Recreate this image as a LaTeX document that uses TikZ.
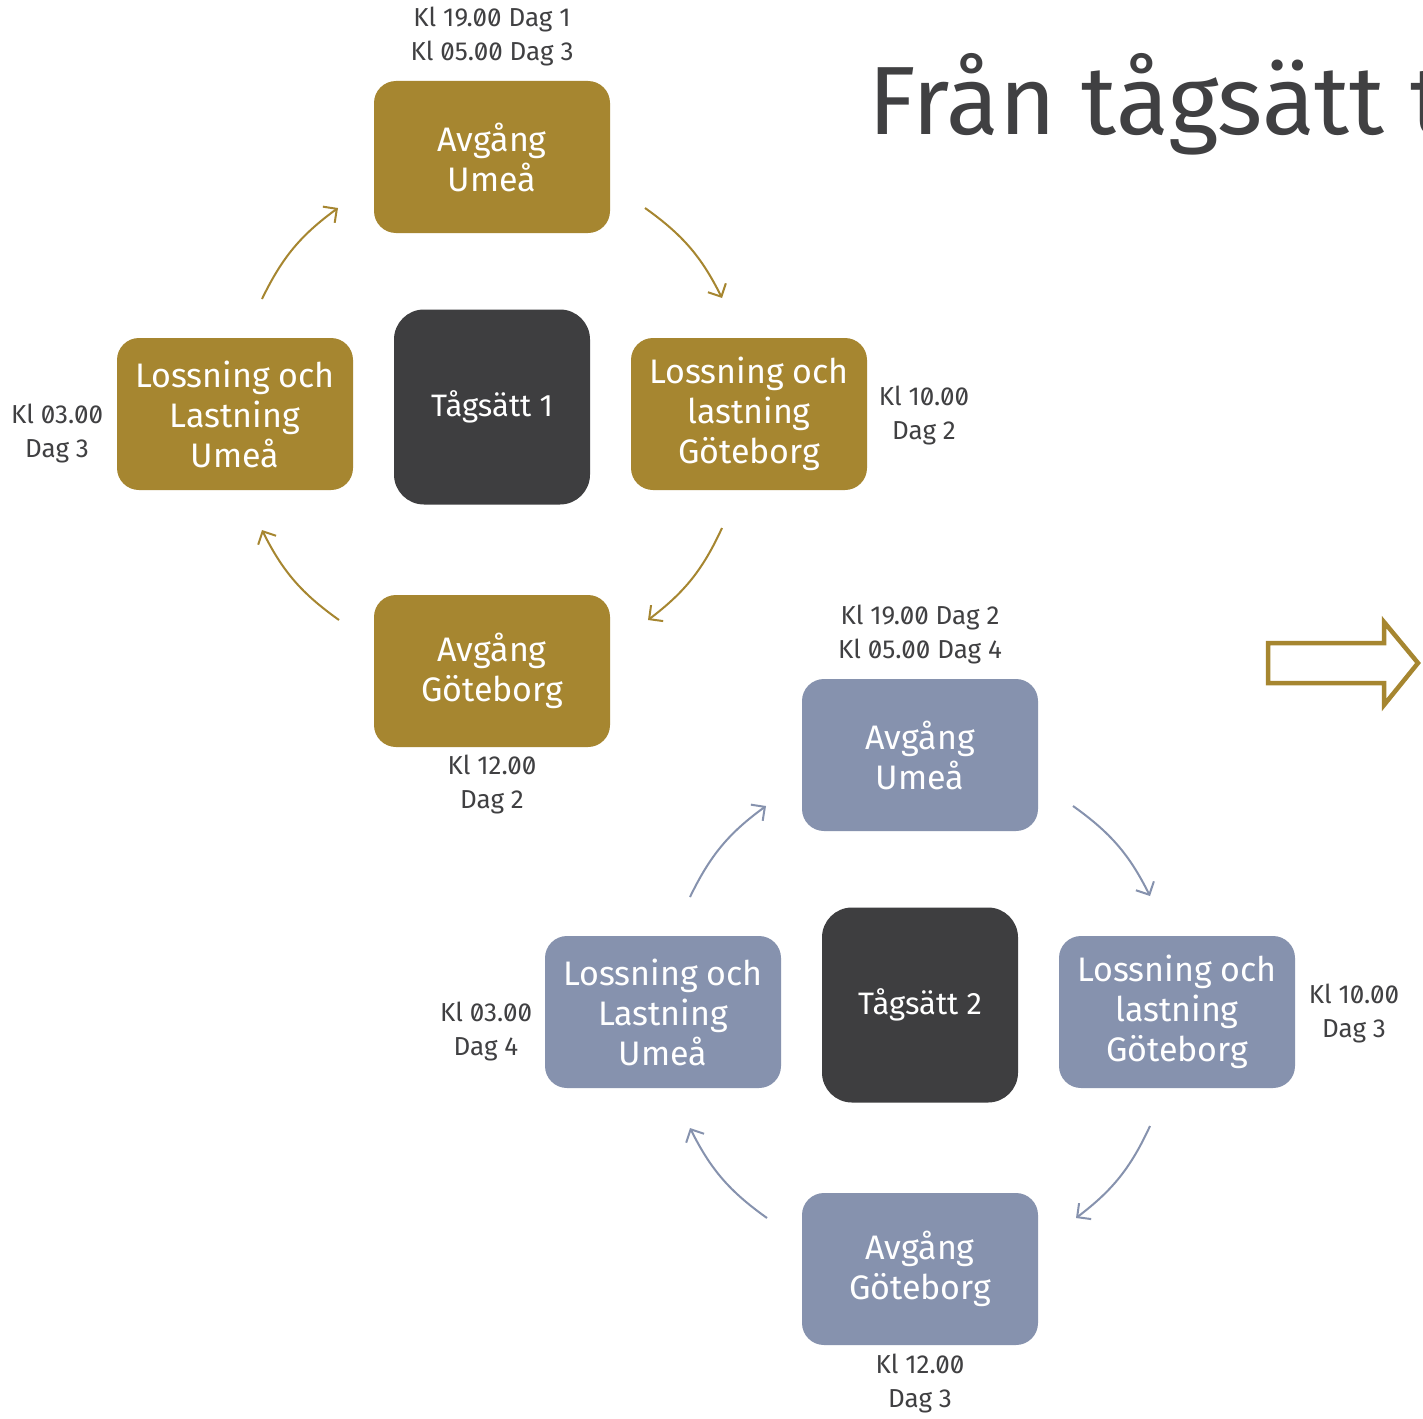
\documentclass[tikz,border=0pt]{standalone}
\usepackage{fontspec}
\setmainfont{Fira Sans}
\newfontfamily\lblfont{Fira Sans}[Numbers=SlashedZero]
\usetikzlibrary{arrows.meta}
\definecolor{gold}{RGB}{166,134,48}
\definecolor{slate}{RGB}{134,146,174}
\definecolor{dark}{RGB}{62,62,64}
\definecolor{txt}{RGB}{64,64,66}
\tikzset{
  x=1pt, y=-1pt,
  stbox/.style={rounded corners=22pt, minimum width=236pt, minimum height=152pt, text=white,
    align=center, inner sep=0pt, font=\fontsize{34}{40}\selectfont},
  goldbox/.style={stbox, fill=gold},
  slatebox/.style={stbox, fill=slate},
  setbox/.style={rounded corners=30pt, fill=dark, minimum width=196pt, minimum height=195pt,
    text=white, inner sep=0pt, font=\fontsize{31}{36}\selectfont},
  lbl/.style={text=txt, align=center, inner sep=0pt, font=\lblfont\fontsize{26}{34}\selectfont},
  cyc/.style={line width=2pt, -{Straight Barb[length=10pt,width=20pt,line width=2pt]}, bend left=14},
  goldarrow/.style={cyc, draw=gold},
  slatearrow/.style={cyc, draw=slate},
}
\begin{document}
\begin{tikzpicture}
\useasboundingbox (0,0) rectangle (1423,1418);
\clip (0,0) rectangle (1423,1418);
\fill[white] (0,0) rectangle (1423,1418);

% title
\node[anchor=base west, inner sep=0pt, text=txt, font=\fontsize{97}{110}\selectfont] (title) at (868,135) {Från tågsätt t};

% cycle 1
\node[goldbox] (au1) at (492,157) {Avgång\\Umeå};
\node[goldbox] (lg1) at (749,414) {Lossning och\\lastning\\Göteborg};
\node[goldbox] (ag1) at (492,671) {Avgång\\Göteborg};
\node[goldbox] (lu1) at (235,414) {Lossning och\\Lastning\\Umeå};
\node[setbox] (t1) at (492,407) {Tågsätt 1};

\node[lbl] (l1a) at (492,37) {Kl 19.00 Dag 1\\Kl 05.00 Dag 3};
\node[lbl] (l1b) at (924,416) {Kl 10.00\\Dag 2};
\node[lbl] (l1c) at (492,785) {Kl 12.00\\Dag 2};
\node[lbl] (l1d) at (57,434) {Kl 03.00\\Dag 3};

\coordinate (a1s) at (645,208); \coordinate (a1e) at (722,298);
\coordinate (b1s) at (722,528); \coordinate (b1e) at (648,620);
\coordinate (c1s) at (339,620); \coordinate (c1e) at (262,530);
\coordinate (d1s) at (262,299); \coordinate (d1e) at (338,208);
\draw[goldarrow] (a1s) to (a1e);
\draw[goldarrow] (b1s) to (b1e);
\draw[goldarrow] (c1s) to (c1e);
\draw[goldarrow] (d1s) to (d1e);

% cycle 2
\node[slatebox] (au2) at (920,755) {Avgång\\Umeå};
\node[slatebox] (lg2) at (1177,1012) {Lossning och\\lastning\\Göteborg};
\node[slatebox] (ag2) at (920,1269) {Avgång\\Göteborg};
\node[slatebox] (lu2) at (663,1012) {Lossning och\\Lastning\\Umeå};
\node[setbox] (t2) at (920,1005) {Tågsätt 2};

\node[lbl] (l2a) at (920,635) {Kl 19.00 Dag 2\\Kl 05.00 Dag 4};
\node[lbl] (l2b) at (1354,1014) {Kl 10.00\\Dag 3};
\node[lbl] (l2c) at (920,1383) {Kl 12.00\\Dag 3};
\node[lbl] (l2d) at (486,1032) {Kl 03.00\\Dag 4};

\coordinate (a2s) at (1073,806); \coordinate (a2e) at (1150,896);
\coordinate (b2s) at (1150,1126); \coordinate (b2e) at (1076,1218);
\coordinate (c2s) at (767,1218); \coordinate (c2e) at (690,1128);
\coordinate (d2s) at (690,897); \coordinate (d2e) at (766,806);
\draw[slatearrow] (a2s) to (a2e);
\draw[slatearrow] (b2s) to (b2e);
\draw[slatearrow] (c2s) to (c2e);
\draw[slatearrow] (d2s) to (d2e);

% big hollow arrow
\draw[gold, line width=4.5pt, line join=miter] (1268,643) -- (1384,643) -- (1384,622) -- (1418,663) -- (1384,705) -- (1384,683) -- (1268,683) -- cycle;
\end{tikzpicture}
\end{document}
